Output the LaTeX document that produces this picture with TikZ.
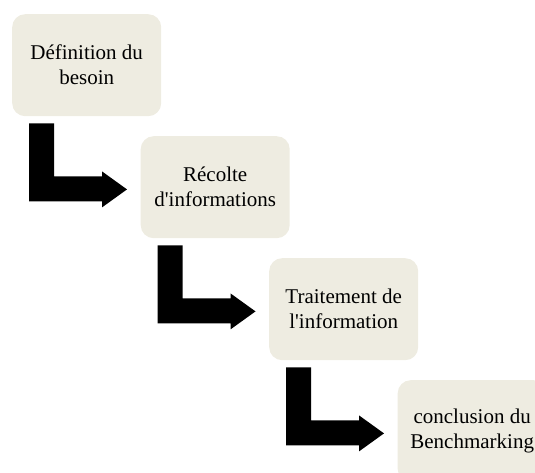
\documentclass[tikz,border=0pt]{standalone}
\usepackage{fontspec}
\setmainfont{Liberation Serif}
\usetikzlibrary{calc}
\definecolor{stepfill}{RGB}{238,236,225}
\tikzset{
  stepbox/.style={rectangle, fill=stepfill, draw=none, rounded corners=13pt,
    minimum width=149pt, minimum height=102pt, anchor=north west,
    align=center, text=black, font=\fontsize{21}{25}\selectfont},
  bendarrow/.style={fill=black, draw=none}
}
% thick L-shaped arrow hanging below a box, turning right towards the next one
\newcommand{\stepturn}[1]{%
  \fill[bendarrow] ($(#1.south west)+(17,7)$)
    -- ++(25,0) -- ++(0,53) -- ++(48,0) -- ++(0,-5) -- ++(25,18)
    -- ++(-25,18) -- ++(0,-6) -- ++(-73,0) -- cycle;}
\begin{document}
\begin{tikzpicture}[x=1pt,y=-1pt]
  \useasboundingbox (0,0) rectangle (535,473);
  \clip (0,0) rectangle (535,473);
  \node[stepbox] (b1) at (12,14)    {Définition du\\besoin};
  \node[stepbox] (b2) at (140.5,136) {Récolte\\d\textquotesingle informations};
  \node[stepbox] (b3) at (269,258)  {Traitement de\\l\textquotesingle information};
  \node[stepbox] (b4) at (397.5,380) {conclusion du\\Benchmarking};
  \stepturn{b1}
  \stepturn{b2}
  \stepturn{b3}
\end{tikzpicture}
\end{document}
